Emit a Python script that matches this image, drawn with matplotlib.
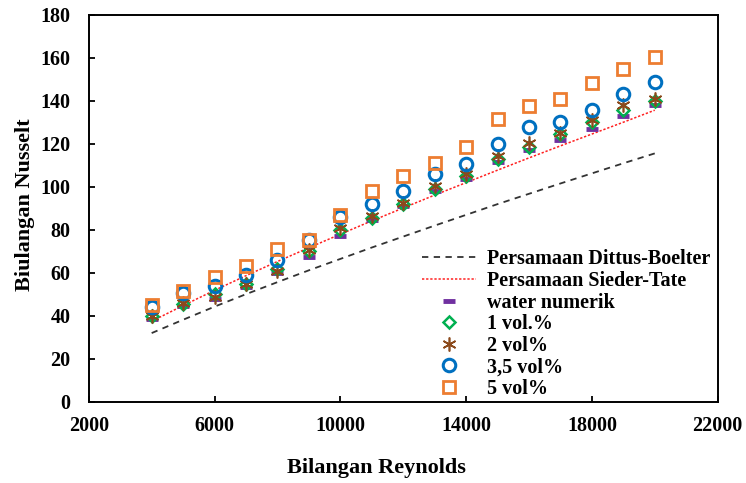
import matplotlib.pyplot as plt

plt.rcParams['font.family'] = 'Liberation Serif'
plt.rcParams['font.weight'] = 'bold'

# ── Data ───────────────────────────────────────────────────────────────────────
reynolds = [4000, 5000, 6000, 7000, 8000, 9000, 10000, 11000, 12000,
            13000, 14000, 15000, 16000, 17000, 18000, 19000, 20000]

dittus_boelter = [32, 38.2, 44.3, 50.1, 55.7, 61.2, 66.5, 71.8, 76.9,
                  82, 87, 92, 96.8, 101.6, 106.3, 111, 115.6]
sieder_tate = [37.5, 44.8, 51.9, 58.7, 65.3, 71.7, 78, 84.2, 90.2,
               96.2, 102, 107.8, 113.5, 119.1, 124.6, 130.1, 135.7]

water_num = [38.5, 44.5, 48, 53.5, 60, 67.5, 77, 84.5, 91,
             98, 103.5, 111.5, 117, 122, 127, 133, 138]
vol_1 = [40, 45.5, 50, 55, 62, 70, 80, 85.5, 92,
         99, 105, 113, 118.5, 124.5, 130, 136, 140]
vol_2 = [40, 46, 49, 55, 61, 70.5, 81, 86.5, 92.5,
         100.5, 106, 114.5, 120.5, 125, 131, 138, 141]
vol_35 = [44, 50.5, 54, 59, 66, 75.5, 86, 92, 98,
          106, 110.5, 120, 128, 130, 136, 143, 149]
vol_5 = [45, 51.5, 58, 63, 71, 75.5, 87, 98, 105,
         111, 118.5, 131.5, 137.5, 141, 148.5, 155, 160.5]

x_ticks = [2000, 6000, 10000, 14000, 18000, 22000]
y_ticks = list(range(0, 181, 20))

# ── Plot ───────────────────────────────────────────────────────────────────────
fig = plt.figure(figsize=(7.46, 4.83), dpi=100)
ax = fig.add_axes([0.119, 0.168, 0.843, 0.801])

ax.plot(reynolds, dittus_boelter, color='#333333', linestyle=(0, (3.5, 3)),
        linewidth=1.3, label='Persamaan Dittus-Boelter')
ax.plot(reynolds, sieder_tate, color='#ff2020', linestyle=(0, (1.5, 1.2)),
        linewidth=1.1, label='Persamaan Sieder-Tate')

ax.plot(reynolds, water_num, linestyle='none', marker='_', markersize=8,
        markeredgewidth=3.5, color='#7030a0', label='water numerik')
ax.plot(reynolds, vol_1, linestyle='none', marker='D', markersize=6.5,
        markerfacecolor='none', markeredgewidth=1.8, color='#00b050',
        label='1 vol.%')
ax.plot(reynolds, vol_2, linestyle='none', marker=(6, 2, 0), markersize=10,
        markeredgewidth=1.2, color='#8b4a1c', label='2 vol%')
ax.plot(reynolds, vol_35, linestyle='none', marker='o', markersize=9,
        markerfacecolor='none', markeredgewidth=2.2, color='#0070c0',
        label='3,5 vol%')
ax.plot(reynolds, vol_5, linestyle='none', marker='s', markersize=8.5,
        markerfacecolor='none', markeredgewidth=2, color='#ed7d31',
        label='5 vol%')

ax.set_xlim(2000, 22000)
ax.set_ylim(0, 180)
ax.set_xticks(x_ticks)
ax.set_yticks(y_ticks)
ax.tick_params(direction='in', length=4, width=1.3, labelsize=14.5)
ax.tick_params(axis='x', pad=10)
ax.tick_params(axis='y', pad=13)
for s in ax.spines.values():
    s.set_linewidth(1.4)

ax.set_xlabel('Bilangan Reynolds', fontsize=16, fontweight='bold')
ax.xaxis.set_label_coords(0.458, -0.145)
ax.set_ylabel('Biulangan Nusselt', fontsize=16, fontweight='bold')
ax.yaxis.set_label_coords(-0.086, 0.51)

ax.legend(loc='upper left', bbox_to_anchor=(0.517, 0.415), frameon=False,
          fontsize=14.5, handlelength=2.7, handletextpad=0.55,
          labelspacing=0.08, borderaxespad=0)

fig.savefig('out.png', dpi=100)
